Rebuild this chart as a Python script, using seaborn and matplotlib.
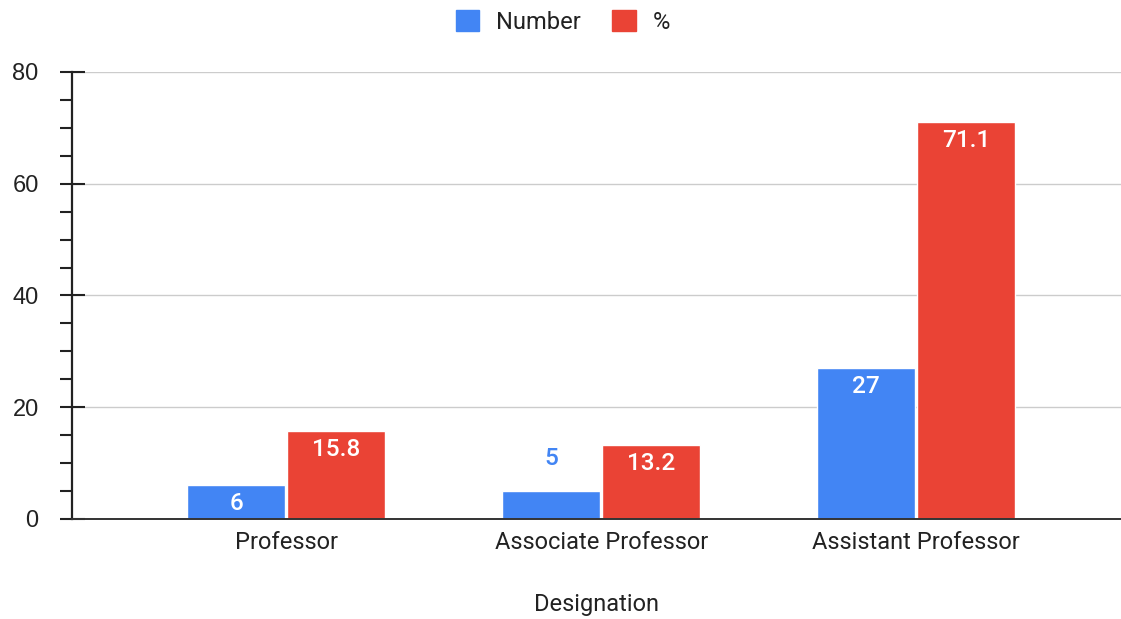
import pandas as pd
import matplotlib
matplotlib.use('Agg')
import matplotlib.pyplot as plt
import seaborn as sns
from matplotlib.ticker import MultipleLocator

# Data
designations = ['Professor', 'Associate Professor', 'Assistant Professor']
number = [6, 5, 27]
percent = [15.8, 13.2, 71.1]
series_names = ['Number', '%']
colors = ['#4285F4', '#EA4335']

df = pd.DataFrame({
    'Designation': designations * 2,
    'value': number + percent,
    'series': [series_names[0]] * 3 + [series_names[1]] * 3,
})

sns.set_style('white')
plt.rcParams['font.family'] = ['Roboto', 'DejaVu Sans']

fig = plt.figure(figsize=(11.21, 6.19), dpi=100)
ax = fig.add_axes([0.0642, 0.1616, 0.9358, 0.7221])

sns.barplot(data=df, x='Designation', y='value', hue='series',
            palette=colors, width=0.637, gap=0.025, ax=ax,
            saturation=1, legend=False, errorbar=None)

ax.set_xlim(-0.68, 2.65)
ax.set_ylim(0, 80)
ax.yaxis.set_major_locator(MultipleLocator(20))
ax.yaxis.set_minor_locator(MultipleLocator(5))
ax.grid(axis='y', color='#cccccc', linewidth=1)
ax.set_axisbelow(True)

for s in ['top', 'right']:
    ax.spines[s].set_visible(False)
ax.spines['left'].set_color('#222222')
ax.spines['left'].set_linewidth(1.6)
ax.spines['bottom'].set_color('#333333')
ax.spines['bottom'].set_linewidth(1.4)

ax.tick_params(axis='y', which='major', direction='inout', length=18,
               width=1.5, color='#222222', labelsize=17, pad=15,
               labelcolor='#222222', left=True)
ax.tick_params(axis='y', which='minor', direction='out', length=9,
               width=1.5, color='#222222', left=True)
ax.tick_params(axis='x', length=0, labelsize=17, pad=9, labelcolor='#222222')
for lbl in ax.get_yticklabels():
    lbl.set_family(['Liberation Sans', 'DejaVu Sans'])

ax.set_ylabel('')
ax.set_xlabel('Designation', fontsize=17, color='#222222', labelpad=28)

# Value labels
for container, col in zip(ax.containers, colors):
    for bar in container:
        h = bar.get_height()
        xc = bar.get_x() + bar.get_width() / 2
        txt = f'{h:g}'
        if h < 6:
            ax.annotate(txt, (xc, h), xytext=(0, 15), textcoords='offset points',
                        ha='center', va='bottom', fontsize=17.5, color=col,
                        fontweight='medium')
        else:
            ax.annotate(txt, (xc, h), xytext=(0, -5), textcoords='offset points',
                        ha='center', va='top', fontsize=17.5, color='white',
                        fontweight='medium')

handles = [plt.Rectangle((0, 0), 1, 1, color=c) for c in colors]
fig.legend(handles, series_names, loc='upper center', bbox_to_anchor=(0.502, 1.018),
           ncol=2, frameon=False, fontsize=17, handlelength=1.0, handleheight=1.0,
           columnspacing=1.35, handletextpad=0.7, labelcolor='#222222')

fig.savefig('out.png', dpi=100)
